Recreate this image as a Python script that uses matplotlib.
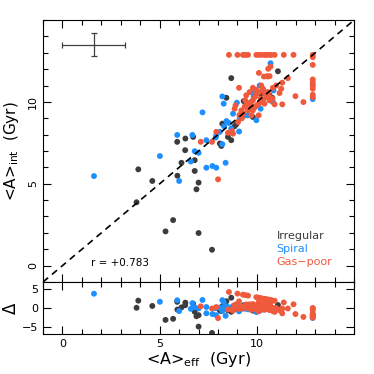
import matplotlib
matplotlib.use('Agg')
import matplotlib.pyplot as plt
import numpy as np
from matplotlib.ticker import MultipleLocator

# <A>_eff, <A>_int (Gyr)
irr_eff = [11.08, 8.68, 8.43, 9.32, 10.79, 10.65, 8.22, 8.94, 8.85, 5.90, 6.32, 6.72,
           6.31, 6.12, 6.80, 8.51, 8.68, 8.09, 8.17, 3.90, 4.62, 5.91, 6.80, 7.00,
           6.89, 9.79, 3.81, 5.69, 5.30, 7.00, 7.69, 10.2, 9.9]
irr_int = [11.87, 11.45, 10.25, 10.05, 10.25, 10.40, 8.67, 8.63, 8.51, 7.56, 7.76, 7.86,
           7.05, 6.28, 6.44, 7.86, 7.66, 7.46, 7.31, 5.88, 5.17, 5.49, 5.78, 5.07,
           4.66, 9.08, 3.87, 2.78, 2.09, 1.99, 0.97, 10.45, 9.7]

spi_eff = [1.62, 5.01, 5.90, 6.68, 7.20, 6.00, 6.60, 6.80, 7.00, 7.40, 7.71, 7.91,
           8.39, 7.40, 7.88, 7.91, 8.09, 8.22, 8.31, 8.43, 8.56, 8.22, 8.29, 8.77,
           8.97, 9.08, 9.37, 9.11, 9.54, 9.83, 9.79, 10.19, 9.97, 10.14, 10.85, 10.82,
           8.68, 10.70, 12.87, 12.87, 9.6, 10.4]
spi_int = [5.47, 6.69, 7.98, 7.98, 9.36, 5.17, 6.36, 6.99, 6.89, 5.98, 6.08, 5.98,
           6.28, 7.66, 7.82, 7.96, 8.17, 7.42, 8.51, 8.83, 8.71, 10.33, 9.89, 9.28,
           9.95, 8.19, 9.18, 8.98, 9.18, 10.33, 10.54, 9.58, 8.88, 11.00, 10.70, 9.99,
           8.37, 12.36, 10.17, 11.05, 9.9, 10.6]

gas_eff = [8.56, 9.00, 9.28, 9.40, 9.54, 9.97, 10.09, 10.24, 10.40, 10.48, 10.62, 10.74,
           10.91, 11.38, 11.88, 12.87, 12.87, 12.87, 12.87, 12.87, 12.87, 12.87, 12.87,
           12.87, 10.70, 10.10, 10.53, 10.65, 11.59, 11.30, 11.98, 12.39, 11.30,
           7.11, 7.69, 8.00, 7.91, 8.77, 8.72, 8.85, 9.08, 8.90, 9.20, 9.37, 9.54,
           9.71, 10.09, 9.45, 9.62, 9.97, 10.22, 10.31, 10.56, 10.48, 10.31, 10.10,
           10.39, 10.65, 9.79, 9.62, 9.88, 10.36, 10.56, 10.58, 10.99, 11.25, 11.16,
           10.82, 9.79, 9.23, 8.51, 9.03, 9.79, 10.68, 10.91, 9.3, 9.5, 9.9, 10.0,
           10.2, 10.4, 9.7, 10.0, 10.3, 9.1, 9.4, 10.6, 10.8, 10.1]
gas_int = [12.87, 12.87, 12.87, 12.87, 12.87, 12.87, 12.87, 12.87, 12.87, 12.87, 12.87, 12.87,
           12.87, 12.87, 12.87, 12.87, 12.73, 12.26, 11.37, 11.20, 10.96, 10.80, 10.44,
           10.29, 12.16, 11.77, 11.57, 11.57, 11.45, 11.17, 10.35, 9.99, 9.85,
           7.56, 7.56, 5.27, 8.17, 8.06, 8.21, 9.58, 10.86, 9.79, 9.48, 9.71, 9.48,
           9.18, 9.18, 10.40, 10.60, 10.74, 11.00, 10.80, 10.60, 10.29, 10.09, 9.89,
           9.89, 10.09, 10.09, 9.79, 9.69, 11.55, 11.55, 12.02, 11.00, 10.80, 10.54,
           10.86, 9.48, 9.00, 8.11, 8.77, 10.86, 10.25, 9.85, 9.3, 9.9, 10.3, 10.5,
           10.2, 10.5, 10.0, 9.8, 10.0, 9.2, 10.1, 10.4, 10.2, 10.6]

groups = [('Irregular', irr_eff, irr_int, '#3c3c3c'),
          ('Spiral', spi_eff, spi_int, '#1e8fff'),
          ('Gas\u2212poor', gas_eff, gas_int, '#f05a3c')]

plt.rcParams['font.family'] = ['DejaVu Sans']
fig = plt.figure(figsize=(3.74, 3.74), dpi=100)
ax = fig.add_axes([0.115, 0.246, 0.832, 0.7005])
ax2 = fig.add_axes([0.115, 0.107, 0.832, 0.139])

for name, xe, yi, col in groups:
    xe = np.array(xe)
    yi = np.array(yi)
    ax.scatter(xe, yi, s=18, color=col, edgecolors='none', zorder=3)
    ax2.scatter(xe, yi - xe, s=18, color=col, edgecolors='none', zorder=3)

ax.plot([-1, 15], [-1, 15], color='black', ls=(0, (4, 3)), lw=1.2, zorder=4)
ax.errorbar([1.6], [13.48], xerr=[1.6], yerr=[0.7], color='#404040', lw=0.9,
            capsize=2.5, capthick=0.9)

ax.text(1.45, 0.15, 'r = +0.783', fontsize=7.5, va='center')
ax.text(11.0, 1.8, 'Irregular', fontsize=8, color='#3c3c3c', va='center')
ax.text(11.0, 1.0, 'Spiral', fontsize=8, color='#1e8fff', va='center')
ax.text(11.0, 0.2, 'Gas\u2212poor', fontsize=8, color='#f05a3c', va='center')

ax.set_xlim(-1, 15)
ax.set_ylim(-1, 15)
ax2.set_xlim(-1, 15)
ax2.set_ylim(-7, 7)

for a in (ax, ax2):
    a.set_xticks([0, 5, 10])
    a.xaxis.set_minor_locator(MultipleLocator(1))
    a.tick_params(which='both', direction='in', top=True, right=True, labelsize=8)
    a.tick_params(which='major', length=6, width=0.8)
    a.tick_params(which='minor', length=3.5, width=0.8)
ax.set_yticks([0, 5, 10])
ax.yaxis.set_minor_locator(MultipleLocator(1))
ax2.set_yticks([-5, 0, 5])
ax.tick_params(labelbottom=False)
for lab in ax.get_yticklabels():
    lab.set_rotation(90)
    lab.set_va('center')

ax.set_ylabel(r'<A>$_{\rm int}$  (Gyr)', fontsize=11)
ax2.set_ylabel('\u0394', fontsize=12)
ax2.set_xlabel(r'<A>$_{\rm eff}$  (Gyr)', fontsize=11.5, labelpad=1)
ax.yaxis.set_label_coords(-0.07, 0.5)
ax2.yaxis.set_label_coords(-0.075, 0.5)

fig.savefig('out.png', dpi=100)
